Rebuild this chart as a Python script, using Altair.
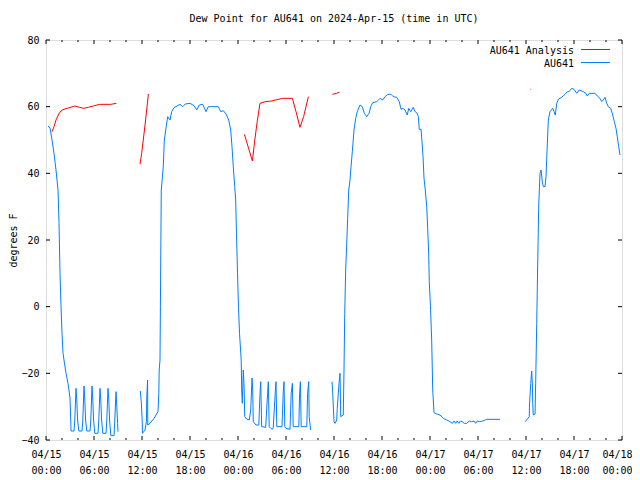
import altair as alt
import pandas as pd

# ---------------- data (hours since 2024-04-15 00:00 UTC, dew point F) ----------------
blue_a_hours = [0.25, 0.5, 0.75, 1.0, 1.25, 1.5, 1.63, 1.75, 1.88, 2.0, 2.13, 2.25, 2.5, 2.75, 3.0, 3.09, 3.13,
                3.5, 3.6, 3.75, 3.85, 3.95, 4.1, 4.5, 4.6, 4.75, 4.85, 4.95, 5.1, 5.5, 5.6, 5.75, 5.85, 5.95,
                6.1, 6.5, 6.6, 6.75, 6.85, 6.95, 7.1, 7.5, 7.6, 7.75, 7.85, 7.95, 8.1, 8.5, 8.6, 8.75, 8.85,
                8.95, 9.0]
blue_a_vals = [54.2, 53.6, 50, 46, 41, 35, 25, 10, 0, -8, -14, -16, -20, -23, -27.4, -34, -37.3,
               -37.3, -34, -24.5, -28, -34, -37.3, -37.3, -34, -23.8, -28, -34, -37.3, -37.3, -34, -23.8, -28, -34,
               -38, -38, -34, -24.5, -28, -34, -38, -38, -34, -24.5, -28, -34, -38.7, -38.7, -34, -25.5, -30,
               -35, -37.5]

blue_b_hours = [11.79, 11.91, 12.04, 12.05, 12.38, 12.55, 12.6, 12.7, 12.72, 13.0, 13.5, 14.0, 14.1, 14.15, 14.25,
                14.3, 14.36, 14.41, 14.66, 14.79, 15.0, 15.21, 15.5, 15.71, 16.0, 16.75, 17.09, 17.41, 18.0,
                18.5, 18.84, 19.16, 19.59, 20.0, 20.29, 21.54, 21.84, 22.16, 22.5, 22.84, 23.09, 23.25, 23.41,
                23.59, 23.71, 23.81, 23.94, 24.06, 24.19, 24.4, 24.46, 24.54, 24.66, 24.75, 24.84, 25.08, 25.41,
                25.59, 25.75, 25.84, 25.91, 26.25, 26.6, 26.75, 26.84, 26.96, 27.46, 27.7, 27.79, 27.9, 28.09,
                28.25, 28.4, 28.65, 28.75, 28.85, 29.5, 29.65, 29.75, 29.85, 30.0, 30.5, 30.65, 30.8, 30.9,
                31.6, 31.7, 31.8, 31.9, 32.6, 32.7, 32.84, 32.9, 33.08]
blue_b_vals = [-25.3, -28.5, -34.8, -38, -37, -34.5, -27, -22, -35.5, -35, -33.5, -31.5, -26, -19, -16,
               0, 20, 35, 42, 50, 53.6, 57, 56, 58.5, 59.7, 60.7, 60, 60.8, 61,
               60.3, 59, 60.5, 60.7, 58.5, 60, 60, 58.5, 58.8, 57.8, 56, 53, 48, 42,
               36, 32, 22, 10, 0, -8, -16, -25, -29, -19, -23, -33, -33.7, -34,
               -31, -21.4, -25, -34.5, -35.5, -35.5, -26, -22.5, -36, -36.2, -26, -22.5, -36, -36.5,
               -36.8, -36.5, -26, -22.5, -36, -36, -26, -22.5, -36, -36.5, -36.8, -26, -23, -36,
               -36, -26, -22.5, -36, -36, -26, -22.5, -33, -37]

blue_c_hours = [35.75, 35.84, 36.0, 36.13, 36.34, 36.41, 36.54, 36.63, 36.75, 36.84, 37.16, 37.25, 37.34, 37.46,
                37.59, 37.71, 37.84, 38.0, 38.13, 38.29, 38.5, 38.71, 38.91, 39.25, 39.54, 39.79, 40.09, 40.38,
                40.59, 40.84, 41.34, 41.75, 42.09, 42.38, 42.71, 43.13, 43.41, 43.84, 44.16, 44.38, 44.59, 44.88,
                45.16, 45.34, 45.59, 45.91, 46.13, 46.34, 46.54, 46.66, 46.88, 47.0, 47.13, 47.25, 47.41, 47.59,
                47.71, 47.84, 47.91, 48.06, 48.21, 48.34, 48.5, 48.84, 49.25, 49.66, 50.09, 50.5, 50.8, 51.0,
                51.2, 51.4, 51.6, 51.8, 52.0, 52.3, 52.6, 52.9, 53.2, 53.5, 53.7, 53.9, 54.2, 54.6, 54.88,
                55.09, 56.75]
blue_c_vals = [-22.5, -26, -34.5, -35, -34, -30.5, -26, -23, -20, -33, -32.5, -19, -2, 11,
               19, 26.5, 35, 38, 42, 46.5, 53, 56.5, 58.5, 60.5, 60, 58, 57, 58,
               60, 61.2, 61.5, 62.5, 62, 63, 63.7, 63.7, 63, 62.8, 61.5, 59.2, 59.5, 59,
               57.5, 59.5, 58.5, 59.8, 58.5, 58.2, 57, 53.2, 53.2, 49.5, 45, 38.5, 35, 30,
               23.5, 15.5, 7.5, 0, -10, -25, -31.8, -32.2, -32.5, -33.5, -34, -34.5, -35, -34.3,
               -35, -34.3, -35, -34.3, -34.5, -35, -35, -34.3, -34.5, -34.3, -35, -34.3, -34.5, -34.3, -34,
               -33.8, -33.8]

blue_d_hours = [59.91, 60.41, 60.43, 60.59, 60.71, 60.79, 60.84, 60.91, 61.13, 61.21, 61.34, 61.46, 61.59, 61.75,
                61.88, 62.04, 62.16, 62.38, 62.5, 62.59, 62.79, 63.0, 63.34, 63.5, 63.66, 63.84, 64.04, 64.46,
                64.88, 65.16, 65.38, 65.71, 66.0, 66.34, 66.66, 67.16, 67.5, 67.66, 67.91, 68.63, 68.91, 69.25,
                69.46, 69.66, 69.88, 70.09, 70.28, 70.59, 70.84, 71.04, 71.25, 71.41, 71.59, 71.75]
blue_d_vals = [-34.5, -33, -29.8, -23, -19.3, -22.8, -29, -32.5, -32.2, -23, -5, 12.5, 30.5, 40,
               41, 37.5, 36, 36, 39, 44.5, 56, 58.5, 59.5, 58.5, 57.5, 61, 62.2, 62.8,
               63.7, 64.5, 64.5, 65.5, 65.2, 64, 65, 64.5, 64, 63.2, 64, 64, 63.2, 62.5,
               61.5, 62, 62.8, 61, 60, 59.5, 57.5, 55.5, 53.5, 51, 48, 45.5]

red_a_hours = [0.75, 1.0, 1.25, 1.6, 1.9, 2.25, 2.9, 3.6, 4.2, 4.7, 5.3, 5.9, 6.7, 8.1, 8.8]
red_a_vals = [52.5, 54, 56, 57.8, 58.8, 59.2, 59.7, 60.2, 59.8, 59.5, 59.8, 60.2, 60.7, 60.7, 61]
red_b_hours = [11.75, 11.96, 12.38, 12.8]
red_b_vals = [42.7, 46, 54.5, 63.8]
red_c_hours = [24.8, 25.8, 26.1, 26.4, 26.75, 27.4, 28.2, 29.0, 29.6, 30.8, 31.25, 31.75, 32.2, 32.8]
red_c_vals = [51.7, 43.7, 50, 55.5, 61, 61.5, 61.7, 62.2, 62.5, 62.5, 58.5, 53.8, 57, 63]
red_d_hours = [35.8, 36.3, 36.7]
red_d_vals = [63.7, 64, 64.3]
red_e_hours = [60.56, 60.64]
red_e_vals = [65.2, 65.2]

series_names = ["AU641 Analysis", "AU641"]
series_colors = ["#ff0000", "#0080ff"]

x_major_ticks = [0, 6, 12, 18, 24, 30, 36, 42, 48, 54, 60, 66, 72]
x_minor_ticks = [2, 4, 8, 10, 14, 16, 20, 22, 26, 28, 32, 34, 38, 40, 44, 46, 50, 52, 56, 58, 62, 64, 68, 70]
y_ticks = [-40, -20, 0, 20, 40, 60, 80]

# ---------------- table ----------------
rows = []
segments = [
    ("AU641", "b1", blue_a_hours, blue_a_vals),
    ("AU641", "b2", blue_b_hours, blue_b_vals),
    ("AU641", "b3", blue_c_hours, blue_c_vals),
    ("AU641", "b4", blue_d_hours, blue_d_vals),
    ("AU641 Analysis", "r1", red_a_hours, red_a_vals),
    ("AU641 Analysis", "r2", red_b_hours, red_b_vals),
    ("AU641 Analysis", "r3", red_c_hours, red_c_vals),
    ("AU641 Analysis", "r4", red_d_hours, red_d_vals),
    ("AU641 Analysis", "r5", red_e_hours, red_e_vals),
]
for name, seg, hs, vs in segments:
    for i, (h, v) in enumerate(zip(hs, vs)):
        rows.append({"hour": h, "dew": v, "series": name, "segment": seg, "order": i})
df = pd.DataFrame(rows)

FONT = "DejaVu Sans Mono"
W, H = 576, 400

xscale = alt.Scale(domain=[0, 72], nice=False, zero=False)
yscale = alt.Scale(domain=[-40, 80], nice=False, zero=False)

label_expr = ("['04/' + (15 + floor(datum.value / 24)), "
              "(datum.value % 24 < 10 ? '0' : '') + (datum.value % 24) + ':00']")

lines = alt.Chart(df).mark_line(strokeWidth=1).encode(
    x=alt.X("hour:Q", scale=xscale,
            axis=alt.Axis(values=x_major_ticks, labelExpr=label_expr, ticks=False, domain=False,
                          grid=False, title=None, labelPadding=9, labelLineHeight=16,
                          labelFont=FONT, labelFontSize=10, labelColor="black", labelFlush=False,
                          labelOverlap=False,
                          labelOffset={"condition": {"test": "datum.value == 72", "value": -5},
                                       "value": 0})),
    y=alt.Y("dew:Q", scale=yscale,
            axis=alt.Axis(values=y_ticks, ticks=False, domain=False, grid=False, title="degrees F",
                          labelPadding=7, labelFont=FONT, labelFontSize=10, labelColor="black",
                          titleFont=FONT, titleFontSize=10, titleFontWeight="normal", titleColor="black",
                          titlePadding=2)),
    color=alt.Color("series:N", scale=alt.Scale(domain=series_names, range=series_colors), legend=None),
    detail="segment:N",
    order="order:Q",
)

xmaj = pd.DataFrame({"hour": x_major_ticks})
xmin = pd.DataFrame({"hour": x_minor_ticks})
yt = pd.DataFrame({"dew": y_ticks})

def xt(d, y0, y1):
    return alt.Chart(d).mark_rule(color="black", strokeWidth=1).encode(
        x=alt.X("hour:Q", scale=xscale), y=alt.value(y0), y2=alt.value(y1))

def ytk(x0, x1):
    return alt.Chart(yt).mark_rule(color="black", strokeWidth=1).encode(
        y=alt.Y("dew:Q", scale=yscale), x=alt.value(x0), x2=alt.value(x1))

ticks = [xt(xmaj, H, H - 4), xt(xmin, H, H - 2), xt(xmaj, 0, 4), xt(xmin, 0, 2),
         ytk(0, 4), ytk(W, W - 4)]

leg_text = [
    alt.Chart(pd.DataFrame({"t": [series_names[0]]})).mark_text(
        align="right", baseline="middle", font=FONT, fontSize=10, color="black").encode(
        text="t:N", x=alt.value(528), y=alt.value(10.5)),
    alt.Chart(pd.DataFrame({"t": [series_names[1]]})).mark_text(
        align="right", baseline="middle", font=FONT, fontSize=10, color="black").encode(
        text="t:N", x=alt.value(528), y=alt.value(23.5)),
]
leg_lines = [
    alt.Chart(pd.DataFrame({"t": [series_names[0]]})).mark_rule(color=series_colors[0], strokeWidth=1).encode(
        x=alt.value(535), x2=alt.value(564), y=alt.value(9.5)),
    alt.Chart(pd.DataFrame({"t": [series_names[1]]})).mark_rule(color=series_colors[1], strokeWidth=1).encode(
        x=alt.value(535), x2=alt.value(564), y=alt.value(22.5)),
]

chart = alt.layer(lines, *ticks, *leg_text, *leg_lines).properties(
    width=W, height=H,
    title=alt.Title("Dew Point for AU641 on 2024-Apr-15 (time in UTC)", font=FONT, fontSize=10,
                    fontWeight="normal", color="black", anchor="middle", offset=11),
    autosize=alt.AutoSizeParams(type="none"),
    padding={"left": 38, "top": 32, "right": 10, "bottom": 40},
).configure_view(stroke="black", strokeWidth=1).configure(background="white")

chart.save("out.html", embed_options={"renderer": "svg", "actions": False})
